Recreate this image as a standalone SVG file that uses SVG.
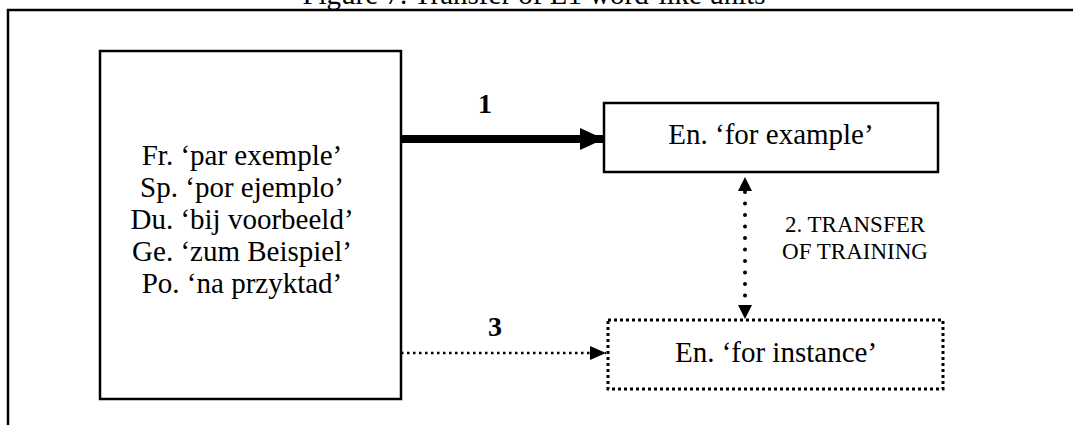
<svg xmlns="http://www.w3.org/2000/svg" width="1073" height="425" viewBox="0 0 1073 425">
<style>
text{font-family:"Liberation Serif","Times New Roman",serif;fill:#000}
.big{font-size:29px}
.lab{font-size:23px}
.num{font-size:28px;font-weight:bold}
.box{fill:#fff;stroke:#000;stroke-width:2.5}
.dbox{fill:#fff;stroke:#000;stroke-width:3;stroke-dasharray:3 3}
</style>
<defs>
<marker id="ahBig" markerWidth="24" markerHeight="22" refX="24" refY="11" orient="auto" markerUnits="userSpaceOnUse"><path d="M0,0 L24,11 L0,22 Z" fill="#000"/></marker>
<marker id="ahSmall" markerWidth="16" markerHeight="14" refX="16" refY="7" orient="auto" markerUnits="userSpaceOnUse"><path d="M0,0 L16,7 L0,14 Z" fill="#000"/></marker>
</defs>
<rect width="1073" height="425" fill="#fff"/>
<text x="534" y="4" class="big" text-anchor="middle">Figure 7. Transfer of L1 word-like units</text>
<path d="M8,425 V10 H1073" fill="none" stroke="#000" stroke-width="2.5"/>
<g id="connectors">
<line x1="401" y1="139" x2="604" y2="139" stroke="#000" stroke-width="8" marker-end="url(#ahBig)"/>
<line x1="401" y1="353" x2="606" y2="353" stroke="#000" stroke-width="2.5" stroke-dasharray="2.5 3.5" marker-end="url(#ahSmall)"/>
<line x1="745" y1="192" x2="745" y2="304" stroke="#000" stroke-width="4" stroke-linecap="round" stroke-dasharray="0 11.5"/>
<path d="M745,177 L752,191 L738,191 Z" fill="#000"/>
<path d="M745,319 L752,305 L738,305 Z" fill="#000"/>
<text x="485" y="113" class="num" text-anchor="middle">1</text>
<text x="495" y="336" class="num" text-anchor="middle">3</text>
<text x="855" y="232" class="lab" text-anchor="middle">2. TRANSFER</text>
<text x="855" y="259" class="lab" text-anchor="middle">OF TRAINING</text>
</g>
<g id="source">
<rect x="100" y="51" width="301" height="348" class="box"/>
<text x="242" y="165" class="big" text-anchor="middle">Fr. ‘par exemple’</text>
<text x="242" y="197" class="big" text-anchor="middle">Sp. ‘por ejemplo’</text>
<text x="242" y="229" class="big" text-anchor="middle">Du. ‘bij voorbeeld’</text>
<text x="242" y="261" class="big" text-anchor="middle">Ge. ‘zum Beispiel’</text>
<text x="242" y="293" class="big" text-anchor="middle">Po. ‘na przyktad’</text>
</g>
<g id="for-example">
<rect x="604" y="103" width="334" height="69" class="box"/>
<text x="771" y="144" class="big" text-anchor="middle">En. ‘for example’</text>
</g>
<g id="for-instance">
<rect x="608" y="320" width="335" height="69" class="dbox"/>
<text x="776" y="362" class="big" text-anchor="middle">En. ‘for instance’</text>
</g>
</svg>
